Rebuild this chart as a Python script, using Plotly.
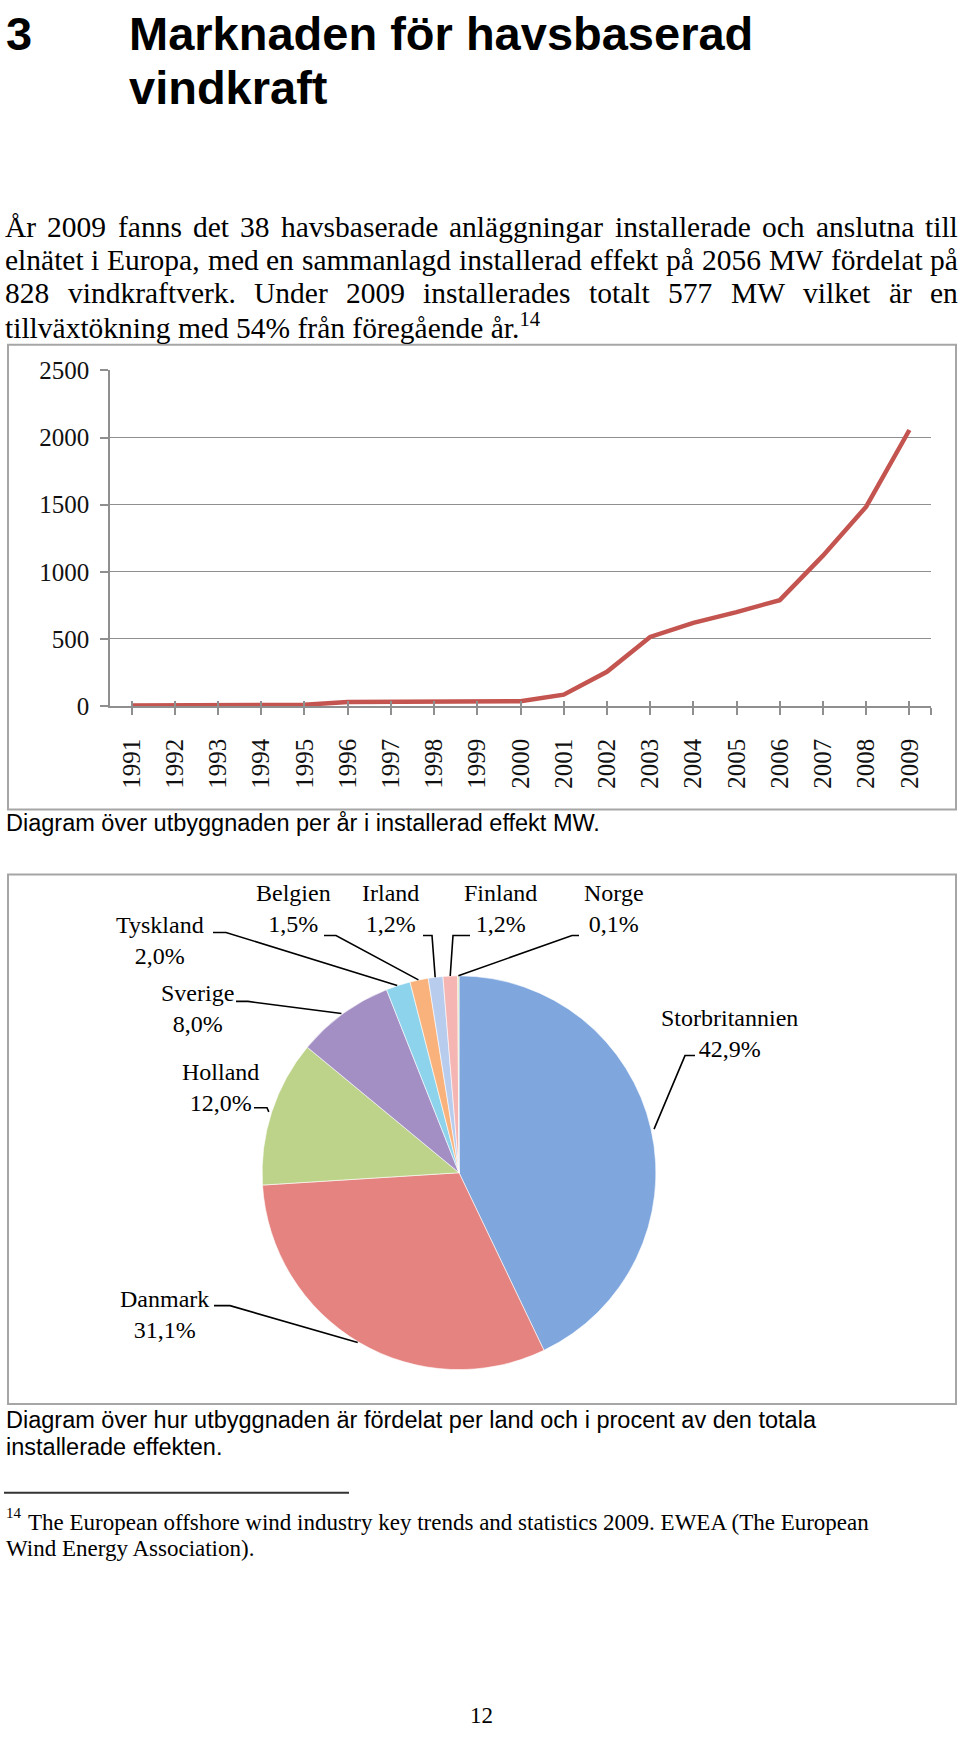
import math
import plotly.graph_objects as go

W, H = 960, 1740

# ---------------- data ----------------
years = list(range(1991, 2010))
installed_mw = [5, 5, 5, 5, 10, 30, 30, 32, 32, 36, 85, 255, 515, 620, 700, 789, 1120, 1485, 2056]
y_ticks = [0, 500, 1000, 1500, 2000, 2500]

countries = ["Storbritannien", "Danmark", "Holland", "Sverige", "Tyskland",
             "Belgien", "Irland", "Finland", "Norge"]
shares = [42.9, 31.1, 12.0, 8.0, 2.0, 1.5, 1.2, 1.2, 0.1]
slice_colors = ["#7FA7DE", "#E4837F", "#BCD389", "#A38FC4", "#8DD3EC",
                "#F9B27B", "#B8CCEE", "#F4B5B3", "#D3E5A6"]

# ---------------- helpers ----------------
def px(x):
    return x / W

def py(y):
    return 1 - y / H

TIMES = {" ": 250, "%": 833, ",": 250, ".": 250, "Å": 722, "E": 611, "M": 889,
         "T": 611, "U": 722, "W": 944, "a": 444, "b": 500, "c": 444, "d": 500,
         "e": 444, "f": 333, "g": 500, "h": 500, "i": 278, "k": 500, "l": 278,
         "m": 778, "n": 500, "o": 500, "p": 500, "r": 333, "s": 389, "t": 278,
         "u": 500, "v": 500, "x": 500, "y": 500, "ä": 444, "å": 444, "ö": 500}

def tw(s, size):
    return sum(TIMES.get(c, 500) for c in s) / 1000.0 * size

annotations = []
shapes = []

def add_text(x, y, text, size, family, xanchor="left", yanchor="middle", color="#000", align="left"):
    annotations.append(dict(x=px(x), y=py(y), xref="paper", yref="paper", text=text,
                            showarrow=False, xanchor=xanchor, yanchor=yanchor, align=align,
                            font=dict(size=size, family=family, color=color)))

SERIF = "Liberation Serif"
SANS = "Liberation Sans"

# ---------------- title ----------------
add_text(4, 21, "<b>3</b>", 47, SANS)
add_text(127, 21, "<b>Marknaden för havsbaserad</b>", 47, SANS)
add_text(127, 76, "<b>vindkraft</b>", 47, SANS)

# ---------------- body text (justified) ----------------
body_lines = [
    "År 2009 fanns det 38 havsbaserade anläggningar installerade och anslutna till",
    "elnätet i Europa, med en sammanlagd installerad effekt på 2056 MW fördelat på",
    "828 vindkraftverk. Under 2009 installerades totalt 577 MW vilket är en",
]
body_y = [217, 250.5, 284]
BS = 29.5
left, right = 3, 956
for line, yy in zip(body_lines, body_y):
    words = line.split(" ")
    total = sum(tw(w, BS) for w in words)
    gap = (right - left - total) / (len(words) - 1)
    x = left
    for w in words:
        add_text(x, yy, w, BS, SERIF)
        x += tw(w, BS) + gap
add_text(3, 317.5, "tillväxtökning med 54% från föregående år.<sup>14</sup>", BS, SERIF)

# ---------------- frames ----------------
frame_col = "#a6a6a6"
shapes.append(dict(type="rect", xref="paper", yref="paper", x0=px(8), x1=px(956),
                   y0=py(809), y1=py(337), line=dict(color=frame_col, width=2)))
shapes.append(dict(type="rect", xref="paper", yref="paper", x0=px(8), x1=px(956),
                   y0=py(1413), y1=py(875), line=dict(color=frame_col, width=2)))

# ---------------- line chart ----------------
fig = go.Figure()
fig.add_trace(go.Scatter(x=years, y=installed_mw, mode="lines",
                         line=dict(color="#C4544F", width=4.5), hoverinfo="x+y",
                         showlegend=False, xaxis="x", yaxis="y"))
# helper trace so the overlay axis (inside half of the crossing ticks) is drawn
fig.add_trace(go.Scatter(x=[years[0]], y=[installed_mw[0]], mode="markers",
                         marker=dict(size=1, opacity=0), showlegend=False,
                         hoverinfo="skip", xaxis="x2", yaxis="y"))

grid_col = "#8f8f8f"
tickfont = dict(family=SERIF, size=25, color="#111")
x_end = years[-1] + 0.5

# ---------------- pie chart ----------------
fig.add_trace(go.Pie(labels=countries, values=shares, sort=False, direction="clockwise",
                     rotation=0, textinfo="none", hoverinfo="label+percent",
                     marker=dict(colors=slice_colors, line=dict(color="white", width=0.6)),
                     domain=dict(x=[px(259), px(659)], y=[py(1378), py(978)]),
                     showlegend=False))

# pie labels with leader lines
cx, cy, r = 459, 1178, 200
label_pos = {
    "Storbritannien": (729, 1037),
    "Danmark": (164, 1322),
    "Holland": (220, 1091),
    "Sverige": (197, 1011),
    "Tyskland": (160, 942),
    "Belgien": (293, 910),
    "Irland": (390, 910),
    "Finland": (500, 910),
    "Norge": (614, 910),
}
leader_start = {
    "Storbritannien": ((695, 1059), (685, 1059)),
    "Danmark": ((214, 1313), (230, 1313)),
    "Holland": ((254, 1112), (267, 1112)),
    "Sverige": ((236, 1004), (248, 1004)),
    "Tyskland": ((213, 934), (226, 934)),
    "Belgien": ((324, 937), (336, 937)),
    "Irland": ((423, 937), (432, 937)),
    "Finland": ((470, 937), (453, 937)),
    "Norge": ((579, 937), (572, 937)),
}
total_share = sum(shares)
cum = 0.0
for name, v in zip(countries, shares):
    mid = (cum + v / 2) / total_share * 2 * math.pi
    cum += v
    ax_ = cx + r * math.sin(mid)
    ay_ = cy - r * math.cos(mid)
    (sx, sy), (ex, ey) = leader_start[name]
    path = f"M {px(sx)},{py(sy)} L {px(ex)},{py(ey)} L {px(ax_)},{py(ay_)}"
    shapes.append(dict(type="path", xref="paper", yref="paper", path=path,
                       line=dict(color="#000", width=1.6)))
    lx, ly = label_pos[name]
    pct = f"{v:.1f}".replace(".", ",") + "%"
    add_text(lx, ly, f"{name}<br>{pct}", 24, SERIF, xanchor="center", align="center")

# ---------------- captions & footnote ----------------
add_text(4, 823, "Diagram över utbyggnaden per år i installerad effekt MW.", 23.5, SANS)
add_text(4, 1429, "Diagram över hur utbyggnaden är fördelat per land och i procent av den totala", 23.5, SANS)
add_text(4, 1457, "installerade effekten.", 23.5, SANS)
shapes.append(dict(type="line", xref="paper", yref="paper", x0=px(4), x1=px(349),
                   y0=py(1503), y1=py(1503), line=dict(color="#333", width=2)))
add_text(4, 1524, "14", 15, SERIF)
add_text(26, 1533, "The European offshore wind industry key trends and statistics 2009. EWEA (The European", 23, SERIF)
add_text(4, 1560, "Wind Energy Association).", 23, SERIF)
add_text(481, 1729, "12", 23, SERIF, xanchor="center")

fig.update_layout(
    width=W, height=H, autosize=False,
    margin=dict(l=0, r=0, t=0, b=0, pad=0),
    paper_bgcolor="white", plot_bgcolor="white",
    showlegend=False,
    xaxis=dict(domain=[px(110), px(931)], range=[years[0] - 0.5, x_end], anchor="y",
               tickmode="array", tickvals=years, ticktext=[str(y) for y in years],
               tickangle=-90, ticks="outside", ticklen=7, tickwidth=1.5, tickcolor=grid_col,
               minor=dict(tickmode="array", tickvals=[x_end], ticks="outside", ticklen=7,
                          tickwidth=1.5, tickcolor=grid_col, showgrid=False),
               showline=True, linecolor=grid_col, linewidth=1.5, showgrid=False,
               zeroline=False, tickfont=tickfont, ticklabelstandoff=14, fixedrange=True),
    xaxis2=dict(domain=[px(110), px(931)], range=[years[0] - 0.5, x_end], anchor="y",
                overlaying="x", side="bottom", tickmode="array", tickvals=years + [x_end],
                ticks="inside", ticklen=5, tickwidth=1.5, tickcolor=grid_col,
                showticklabels=False, showline=False, showgrid=False, zeroline=False,
                fixedrange=True),
    yaxis=dict(domain=[py(704), py(363)], range=[0, 2500], tickmode="array",
               tickvals=y_ticks, ticks="outside", ticklen=8, tickwidth=1.5,
               tickcolor=grid_col, showline=True, linecolor=grid_col, linewidth=1.5,
               showgrid=True, gridcolor=grid_col, gridwidth=1.3, zeroline=False,
               tickfont=tickfont, ticklabelstandoff=6, fixedrange=True),
    annotations=annotations,
    shapes=shapes,
)

fig.write_html("out.html", config={"displayModeBar": False},
               post_script="document.body.style.margin='0';document.body.style.overflow='hidden';")
